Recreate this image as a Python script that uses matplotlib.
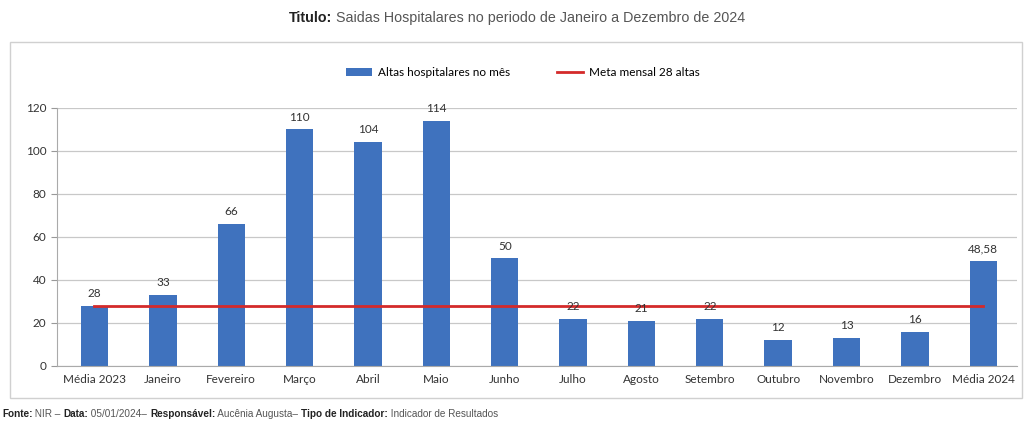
import numpy as np
import matplotlib.pyplot as plt
from matplotlib.patches import Rectangle

categorias = ["Média 2023", "Janeiro", "Fevereiro", "Março", "Abril", "Maio", "Junho",
              "Julho", "Agosto", "Setembro", "Outubro", "Novembro", "Dezembro", "Média 2024"]
altas = [28, 33, 66, 110, 104, 114, 50, 22, 21, 22, 12, 13, 16, 48.58]
rotulos = ["28", "33", "66", "110", "104", "114", "50", "22", "21", "22", "12", "13", "16", "48,58"]
meta = [28] * len(categorias)

azul = "#3F72BE"
vermelho = "#D42A2A"
fs = 8.5

plt.rcParams["font.family"] = ["Lato", "DejaVu Sans"]

fig = plt.figure(figsize=(10.34, 4.25), dpi=100)
ax = fig.add_axes([0.055, 0.139, 0.929, 0.607])

x = np.arange(len(categorias))
barras = ax.bar(x, altas, width=0.4, color=azul, label="Altas hospitalares no mês", zorder=2)
linha, = ax.plot(x, meta, color=vermelho, linewidth=2, label="Meta mensal 28 altas", zorder=3)

for xi, v, r in zip(x, altas, rotulos):
    ax.text(xi, v + 3.2, r, ha="center", va="bottom", fontsize=fs, color="#333333")

ax.set_xlim(-0.55, 13.5)
ax.set_ylim(0, 120)
ax.set_yticks(range(0, 121, 20))
ax.set_xticks(x)
ax.set_xticklabels(categorias, fontsize=fs, color="#333333")
ax.tick_params(axis="y", labelsize=fs, labelcolor="#333333", length=4, color="#999999")
ax.tick_params(axis="x", length=0, pad=6)
ax.grid(axis="y", color="#c8c8c8", linewidth=0.9, zorder=0)
for s in ["top", "right"]:
    ax.spines[s].set_visible(False)
ax.spines["left"].set_color("#aaaaaa")
ax.spines["bottom"].set_color("#aaaaaa")

ax.legend([barras, linha], ["Altas hospitalares no mês", "Meta mensal 28 altas"],
          loc="center", bbox_to_anchor=(0.485, 1.138), ncol=2, frameon=False,
          fontsize=fs, handlelength=2.2, handletextpad=0.5, columnspacing=4)

# moldura do gráfico
fig.patches.append(Rectangle((10 / 1034, 1 - 398 / 425), 1012 / 1034, 356 / 425,
                             transform=fig.transFigure, fill=False,
                             edgecolor="#d0d0d0", linewidth=1))


def texto_misto(partes, x0, y0, ha="left", fontsize=8):
    # desenha pedaços de texto em sequência, alguns em negrito
    fig.canvas.draw()
    r = fig.canvas.get_renderer()
    objs = []
    for txt, bold in partes:
        t = fig.text(0, y0, txt, fontsize=fontsize, family="Liberation Sans",
                     fontweight="bold" if bold else "normal",
                     color="#222222" if bold else "#555555", va="center")
        objs.append(t)
    larguras = [t.get_window_extent(r).width / fig.bbox.width for t in objs]
    total = sum(larguras)
    pos = x0 - total / 2 if ha == "center" else x0
    for t, w in zip(objs, larguras):
        t.set_x(pos)
        pos += w


texto_misto([("Titulo:", True), (" Saidas Hospitalares no periodo de Janeiro a Dezembro de 2024", False)],
            0.5, 1 - 18 / 425, ha="center", fontsize=10.3)
texto_misto([("Fonte:", True), (" NIR – ", False), ("Data:", True), (" 05/01/2024– ", False),
             ("Responsável:", True), (" Aucênia Augusta– ", False),
             ("Tipo de Indicador:", True), (" Indicador de Resultados", False)],
            2 / 1034, 1 - 414 / 425, fontsize=7.2)

fig.savefig("out.png", dpi=100)
